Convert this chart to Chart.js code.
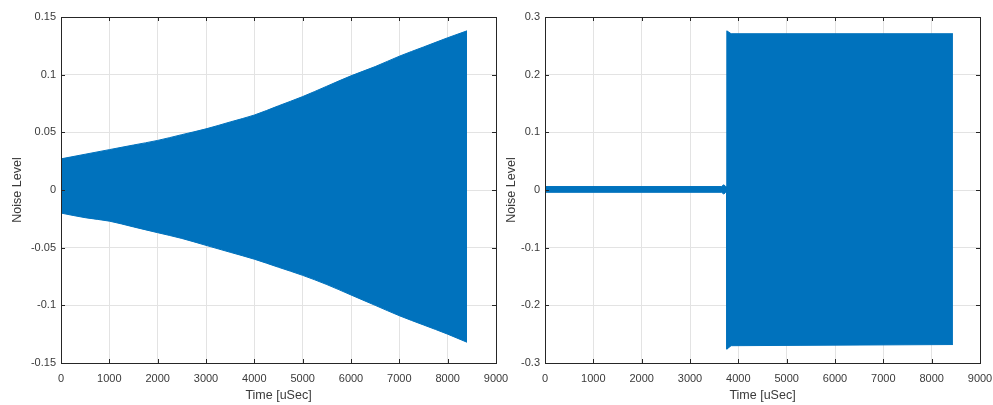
<!DOCTYPE html>
<html>
<head>
<meta charset="utf-8">
<script src="https://cdn.jsdelivr.net/npm/chart.js@4"></script>
<style>
  html, body { margin: 0; padding: 0; background: #fff; }
  body { width: 993px; height: 405px; position: relative; overflow: hidden; }
  .box { position: absolute; top: 0; height: 405px; }
  #wrapA { left: 0; width: 520px; }
  #wrapB { left: 500px; width: 493px; }
</style>
</head>
<body>
<div class="box" id="wrapA"><canvas id="graficoA"></canvas></div>
<div class="box" id="wrapB"><canvas id="graficoB"></canvas></div>
<script>
// envelope of the noise trace (time in uSec)
const tempoA = [0, 500, 1000, 1500, 2000, 2500, 3000, 3500, 4000, 4500, 5000, 5500, 6000, 6500, 7000, 7500, 8000, 8400];
const topoA  = [0.027, 0.031, 0.035, 0.039, 0.043, 0.048, 0.053, 0.059, 0.065, 0.073, 0.081, 0.090, 0.099, 0.107, 0.116, 0.124, 0.132, 0.138];
const baseA  = [-0.020, -0.024, -0.027, -0.032, -0.037, -0.042, -0.048, -0.054, -0.060, -0.067, -0.074, -0.082, -0.091, -0.100, -0.109, -0.117, -0.125, -0.132];

const tempoB = [0, 3650, 3700, 3740, 3758, 3762, 3850, 8440];
const topoB  = [0.006, 0.006, 0.009, 0.006, 0.006, 0.276, 0.271, 0.271];
const baseB  = [-0.004, -0.004, -0.007, -0.004, -0.004, -0.276, -0.270, -0.268];

const ticksX  = [0, 1000, 2000, 3000, 4000, 5000, 6000, 7000, 8000, 9000];
const ticksYA = [-0.15, -0.1, -0.05, 0, 0.05, 0.1, 0.15];
const ticksYB = [-0.3, -0.2, -0.1, 0, 0.1, 0.2, 0.3];

const AZUL = '#0072BD';
const EIXO = '#262626';
const TEXTO = '#3a3a3a';
const FONTE = "'Liberation Sans', Arial, sans-serif";

// box round the plot and the small inward ticks like matlab
const moldura = {
  id: 'moldura',
  afterDraw(chart) {
    const { ctx, chartArea: a, scales } = chart;
    ctx.save();
    ctx.strokeStyle = EIXO;
    ctx.lineWidth = 1;
    ctx.strokeRect(Math.round(a.left) + 0.5, Math.round(a.top) + 0.5,
      Math.round(a.right - a.left), Math.round(a.bottom - a.top));
    ctx.beginPath();
    scales.x.ticks.forEach(t => {
      const px = Math.round(scales.x.getPixelForValue(t.value)) + 0.5;
      ctx.moveTo(px, a.bottom); ctx.lineTo(px, a.bottom - 4);
      ctx.moveTo(px, a.top); ctx.lineTo(px, a.top + 4);
    });
    scales.y.ticks.forEach(t => {
      const py = Math.round(scales.y.getPixelForValue(t.value)) + 0.5;
      ctx.moveTo(a.left, py); ctx.lineTo(a.left + 4, py);
      ctx.moveTo(a.right, py); ctx.lineTo(a.right - 4, py);
    });
    ctx.stroke();
    ctx.restore();
  }
};

function fmt(v) {
  return String(+Number(v).toFixed(4));
}

function gerarGrafico(id, tempo, topo, base, ticksY, larguraY, padding, suave) {
  const ctx = document.getElementById(id);
  const ymin = ticksY[0], ymax = ticksY[ticksY.length - 1];
  const modo = suave ? 'monotone' : 'default';
  new Chart(ctx, {
    type: 'line',
    data: {
      datasets: [
        {
          data: tempo.map((t, i) => ({ x: t, y: topo[i] })),
          borderColor: AZUL, borderWidth: 1, pointRadius: 0, fill: false,
          cubicInterpolationMode: modo
        },
        {
          data: tempo.map((t, i) => ({ x: t, y: base[i] })),
          borderColor: AZUL, borderWidth: 1, pointRadius: 0,
          fill: '-1', backgroundColor: AZUL,
          cubicInterpolationMode: modo
        }
      ]
    },
    options: {
      responsive: true,
      maintainAspectRatio: false,
      animation: false,
      events: [],
      layout: { padding: padding },
      plugins: { legend: { display: false }, tooltip: { enabled: false } },
      elements: { line: { tension: 0 } },
      scales: {
        x: {
          type: 'linear', min: 0, max: 9000,
          afterBuildTicks: s => { s.ticks = ticksX.map(v => ({ value: v })); },
          afterFit: s => { s.height = 42; s.paddingLeft = 0; s.paddingRight = 0; },
          grid: { color: '#e3e3e3', drawTicks: false },
          border: { display: false },
          ticks: { padding: 9, color: TEXTO, font: { family: FONTE, size: 11 }, callback: fmt, maxRotation: 0 },
          title: { display: true, text: 'Time [uSec]', color: TEXTO,
            font: { family: FONTE, size: 12.5 }, padding: { top: 4, bottom: 2 } }
        },
        y: {
          type: 'linear', min: ymin, max: ymax,
          afterBuildTicks: s => { s.ticks = ticksY.map(v => ({ value: v })); },
          afterFit: s => { s.width = larguraY; s.paddingTop = 0; s.paddingBottom = 0; },
          grid: { color: '#e3e3e3', drawTicks: false },
          border: { display: false },
          ticks: { padding: 5, color: TEXTO, font: { family: FONTE, size: 11 }, callback: fmt },
          title: { display: true, text: 'Noise Level', color: TEXTO,
            font: { family: FONTE, size: 12.5 }, padding: { top: 4, bottom: 4 } }
        }
      }
    },
    plugins: [moldura]
  });
}

gerarGrafico('graficoA', tempoA, topoA, baseA, ticksYA, 55, { left: 6, right: 24, top: 17, bottom: 0 }, true);
gerarGrafico('graficoB', tempoB, topoB, baseB, ticksYB, 45, { left: 0, right: 13, top: 17, bottom: 0 }, false);
</script>
</body>
</html>
